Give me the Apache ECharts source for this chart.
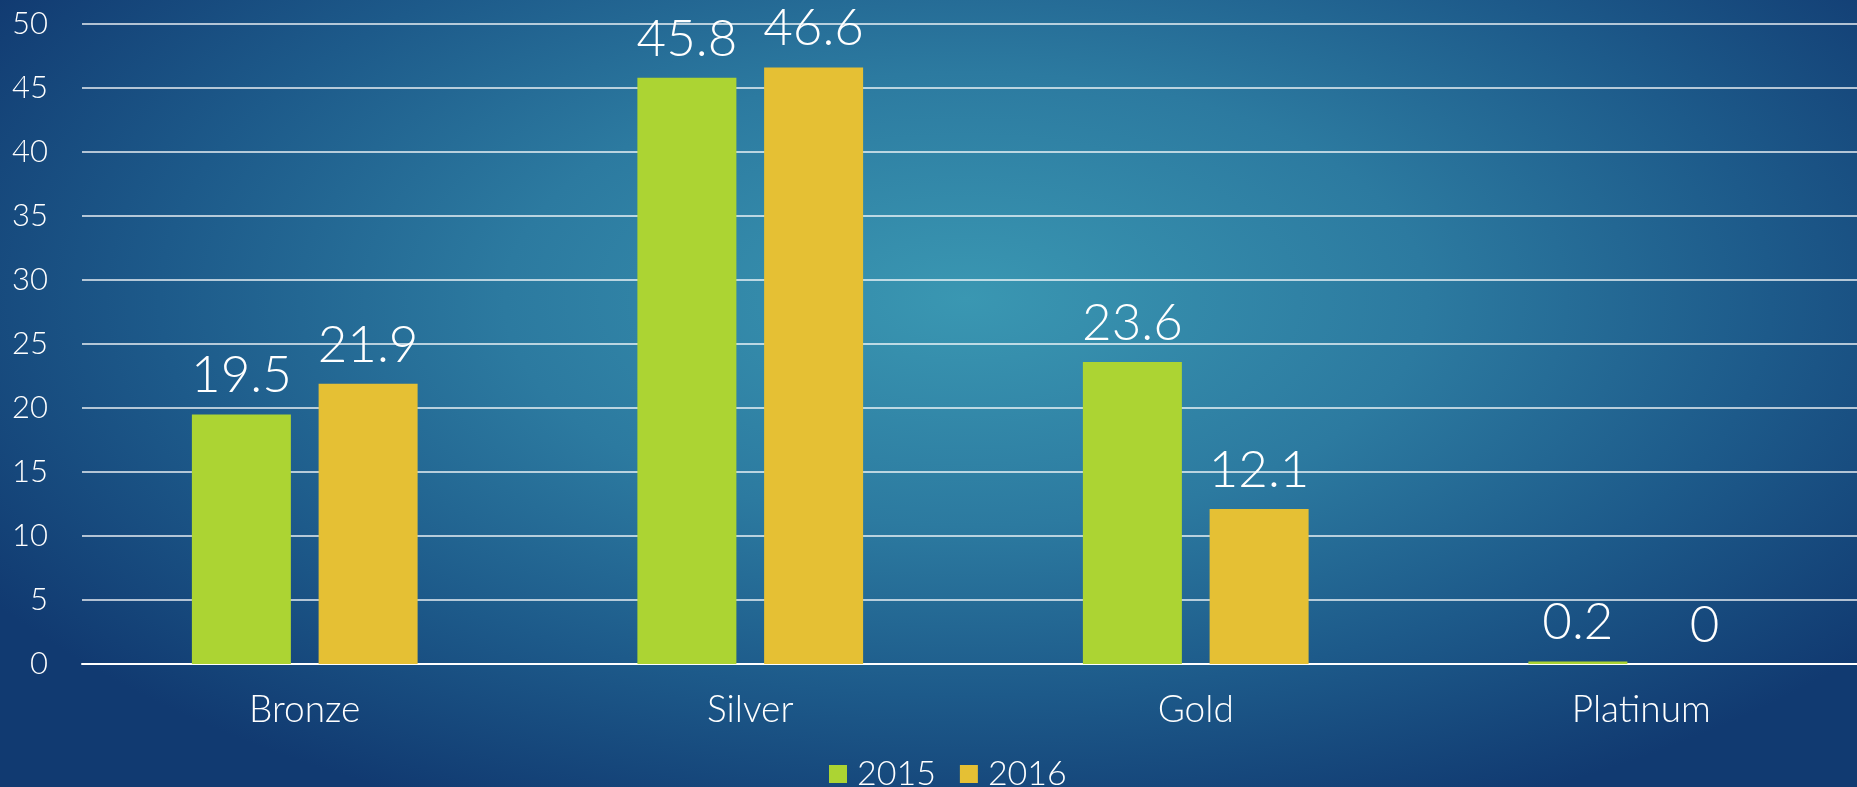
<!DOCTYPE html>
<html>
<head>
<meta charset="utf-8">
<style>
  html, body { margin: 0; padding: 0; }
  body {
    width: 1857px; height: 787px; overflow: hidden;
    background: radial-gradient(ellipse 62% 72% at 52% 38%, #3a97b2 0%, #2c7aa0 40%, #1d5a8a 70%, #113a71 100%);
  }
  #main { width: 1864px; height: 787px; }
</style>
<script src="https://cdn.jsdelivr.net/npm/echarts@6/dist/echarts.min.js"></script>
</head>
<body>
<div id="main"></div>
<script>
// 数据
var categories = ['Bronze', 'Silver', 'Gold', 'Platinum'];
var seriesNames = ['2015', '2016'];
var values2015 = [19.5, 45.8, 23.6, 0.2];
var values2016 = [21.9, 46.6, 12.1, 0];
var yTicks = [0, 5, 10, 15, 20, 25, 30, 35, 40, 45, 50];

(function () {
  var myChart = echarts.init(document.getElementById('main'));
  var fontFamily = 'Lato, "Noto Sans", sans-serif';
  var barLabel = {
    show: true,
    position: 'top',
    distance: 13,
    color: '#fff',
    fontSize: 51,
    fontWeight: 300,
    fontFamily: fontFamily
  };
  var option = {
    backgroundColor: 'transparent',
    color: ['#acd433', '#e5c034'],
    textStyle: { fontFamily: fontFamily },
    grid: {
      left: 82,
      right: 0,
      top: 24,
      bottom: 123,
      containLabel: false
    },
    legend: {
      data: seriesNames,
      left: 824,
      top: 752,
      itemWidth: 18,
      itemHeight: 18,
      itemGap: 24,
      icon: 'rect',
      textStyle: {
        color: '#fff',
        fontSize: 34,
        fontWeight: 300,
        padding: [0, 0, 0, 5],
        fontFamily: fontFamily
      }
    },
    xAxis: {
      type: 'category',
      data: categories,
      axisTick: { show: false },
      axisLine: { lineStyle: { color: '#fff', width: 2 } },
      axisLabel: {
        color: '#fff',
        fontSize: 37,
        fontWeight: 300,
        margin: 28,
        fontFamily: fontFamily
      }
    },
    yAxis: {
      type: 'value',
      min: yTicks[0],
      max: yTicks[yTicks.length - 1],
      interval: 5,
      axisLine: { show: false },
      axisTick: { show: false },
      axisLabel: {
        color: '#fff',
        fontSize: 31,
        fontWeight: 300,
        margin: 34,
        fontFamily: fontFamily
      },
      splitLine: {
        lineStyle: { color: 'rgba(255,255,255,0.9)', width: 1.5 }
      }
    },
    series: [
      {
        name: seriesNames[0],
        type: 'bar',
        data: values2015,
        barWidth: 99,
        barGap: '28%',
        label: barLabel
      },
      {
        name: seriesNames[1],
        type: 'bar',
        data: values2016,
        barWidth: 99,
        barGap: '28%',
        label: barLabel
      }
    ]
  };
  myChart.setOption(option);
  window.addEventListener('resize', function () {
    myChart.resize();
  });
})();
</script>
</body>
</html>
